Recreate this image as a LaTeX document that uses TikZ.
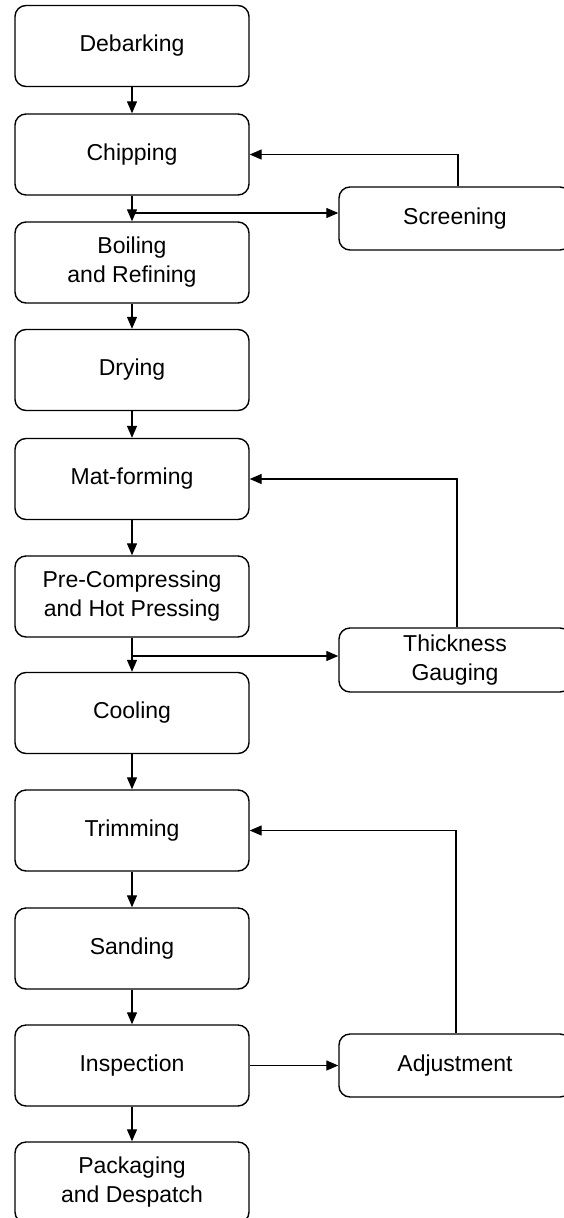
\documentclass[tikz,border=0pt]{standalone}
\usepackage{fontspec}
\setmainfont{Liberation Sans}
\usetikzlibrary{arrows.meta}
\begin{document}
\begin{tikzpicture}[x=1pt,y=-1pt,
  box/.style={draw,line width=1.4pt,rounded corners=11pt,minimum width=234pt,minimum height=81pt,align=center,font=\fontsize{23}{29}\selectfont,inner sep=0pt},
  sbox/.style={draw,line width=1.4pt,rounded corners=11pt,minimum width=232pt,minimum height=63pt,align=center,font=\fontsize{23}{29}\selectfont,inner sep=0pt},
  arr/.style={line width=1.3pt,-{Triangle[length=12pt,width=10pt]}},
  ln/.style={line width=1.3pt}]
\clip (0,0) rectangle (564,1218);
\fill[white] (0,0) rectangle (564,1218);
\node[box] (deb) at (132,46) {Debarking};
\node[box] (chip) at (132,154.5) {Chipping};
\node[box] (boil) at (132,262.5) {Boiling\\and Refining};
\node[box] (dry) at (132,370) {Drying};
\node[box] (mat) at (132,479) {Mat-forming};
\node[box] (pre) at (132,596.5) {Pre-Compressing\\and Hot Pressing};
\node[box] (cool) at (132,713) {Cooling};
\node[box] (trim) at (132,830.5) {Trimming};
\node[box] (sand) at (132,948.5) {Sanding};
\node[box] (insp) at (132,1065.5) {Inspection};
\node[box] (pack) at (132,1182.5) {Packaging\\and Despatch};
\node[sbox] (scr) at (455,218.5) {Screening};
\node[sbox,minimum height=64pt] (thk) at (455,660) {Thickness\\Gauging};
\node[sbox] (adj) at (455,1065.5) {Adjustment};
% main chain
\draw[arr] (deb) -- (chip);
\draw[arr] (chip) -- (boil);
\draw[arr] (boil) -- (dry);
\draw[arr] (dry) -- (mat);
\draw[arr] (mat) -- (pre);
\draw[arr] (pre) -- (cool);
\draw[arr] (cool) -- (trim);
\draw[arr] (trim) -- (sand);
\draw[arr] (sand) -- (insp);
\draw[arr] (insp) -- (pack);
% screening loop
\coordinate (b1) at (132,213);
\draw[arr] (b1) -- (b1 -| scr.west);
\coordinate (r1) at (458,0);
\draw[arr] (r1 |- scr.north) |- (chip.east);
% thickness loop
\coordinate (b2) at (132,656);
\draw[arr] (b2) -- (b2 -| thk.west);
\coordinate (r2) at (457,0);
\draw[arr] (r2 |- thk.north) |- (mat.east);
% adjustment loop
\draw[arr] (insp.east) -- (adj.west);
\coordinate (r3) at (456,0);
\draw[arr] (r3 |- adj.north) |- (trim.east);
\end{tikzpicture}
\end{document}
